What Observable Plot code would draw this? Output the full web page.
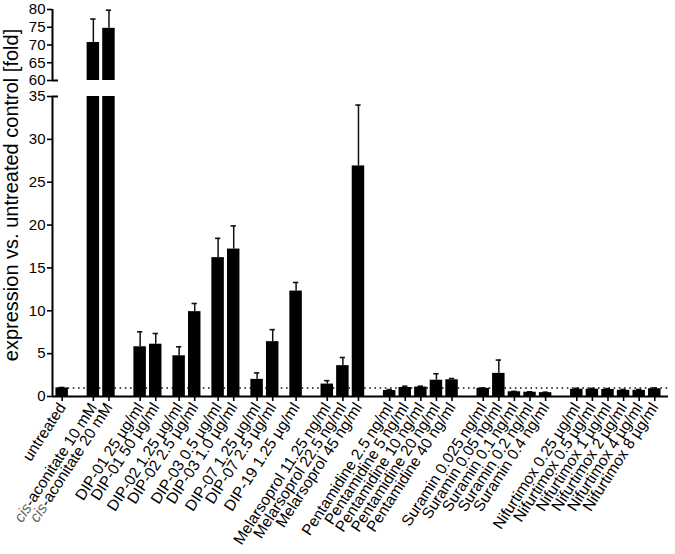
<!DOCTYPE html>
<html><head><meta charset="utf-8">
<script src="https://cdn.jsdelivr.net/npm/d3@7"></script>
<script src="https://cdn.jsdelivr.net/npm/@observablehq/plot@0.6"></script>
<style>
body{margin:0;background:#fff;}
#chart{position:relative;width:675px;height:554px;font-family:"Liberation Sans",Arial,Helvetica,sans-serif;}
#chart svg{position:absolute;left:0;overflow:visible;}
</style></head><body><div id="chart"></div>
<script>
const labels = ["untreated","cis-aconitate 10 mM","cis-aconitate 20 mM",
  "DIP-01 25 µg/ml","DIP-01 50 µg/ml","DIP-02 1.25 µg/ml","DIP-02 2.5 µg/ml",
  "DIP-03 0.5 µg/ml","DIP-03 1.0 µg/ml","DIP-07 1.25 µg/ml","DIP-07 2.5 µg/ml","DIP-19 1.25 µg/ml",
  "Melarsoprol 11.25 ng/ml","Melarsoprol 22.5 ng/ml","Melarsoprol 45 ng/ml",
  "Pentamidine 2.5 ng/ml","Pentamidine 5 ng/ml","Pentamidine 10 ng/ml","Pentamidine 20 ng/ml","Pentamidine 40 ng/ml",
  "Suramin 0.025 ng/ml","Suramin 0.05 ng/ml","Suramin 0.1 ng/ml","Suramin 0.2 ng/ml","Suramin 0.4 ng/ml",
  "Nifurtimox 0.25 µg/ml","Nifurtimox 0.5 µg/ml","Nifurtimox 1 µg/ml","Nifurtimox 2 µg/ml","Nifurtimox 4 µg/ml","Nifurtimox 8 µg/ml"];
const values = [1.0,70.7,74.7, 5.8,6.1,4.75,9.9, 16.2,17.2,2.0,6.4,12.3, 1.45,3.6,26.9,
  0.7,1.05,1.1,1.9,1.95, 0.95,2.7,0.55,0.5,0.45, 0.85,0.85,0.82,0.72,0.72,0.9];
const errors = [0.05,6.6,5.1, 1.75,1.25,1.05,0.95, 2.25,2.7,0.75,1.4,1.0, 0.4,0.95,7.1,
  0.1,0.15,0.1,0.75,0.15, 0.05,1.55,0.05,0.05,0.05, 0.1,0.1,0.1,0.1,0.1,0.1];
const yTicksBottom = [0,5,10,15,20,25,30,35];
const yTicksTop = [60,65,70,75,80];
const yLabel = "expression vs. untreated control [fold]";
const refLevel = 1;

// slot positions derived from the grouping in the labels
const pos = [];
let p = 0;
labels.forEach((l, i) => {
  if (i > 0) {
    const g = l.split(" ")[0], pg = labels[i-1].split(" ")[0];
    if (g !== pg) p += (g.split("-")[0] !== pg.split("-")[0]) ? 2 : 1.5;
    else p += 1;
  }
  pos.push(p);
});
const data = labels.map((l, i) => ({label: l, pos: pos[i], value: values[i], err: errors[i]}));
const labelByPos = new Map(data.map(d => [d.pos, d.label]));
const xDomain = [-0.62, pos[pos.length-1] + 0.88];
const halfBar = 0.4, halfCap = 0.17;
const font = '"Liberation Sans",Arial,Helvetica,sans-serif';

function barMarks() {
  return [
    Plot.ruleX(data, {x: "pos", y1: "value", y2: d => d.value + d.err, stroke: "#111", strokeWidth: 1.5, clip: true}),
    Plot.ruleY(data, {y: d => d.value + d.err, x1: d => d.pos - halfCap, x2: d => d.pos + halfCap, stroke: "#111", strokeWidth: 1.6, clip: true}),
    Plot.rect(data, {x1: d => d.pos - halfBar, x2: d => d.pos + halfBar, y1: () => 0, y2: "value", fill: "black", clip: true})
  ];
}

const chart = document.getElementById("chart");

const topPlot = Plot.plot({
  width: 675, height: 84, marginTop: 9, marginBottom: 4, marginLeft: 52, marginRight: 7,
  style: {fontFamily: font, fontSize: "15px", background: "transparent"},
  x: {type: "linear", domain: xDomain, axis: null},
  y: {domain: [60, 80], axis: null},
  marks: [
    ...barMarks(),
    Plot.ruleX([xDomain[0]], {y1: 60, y2: 80, strokeWidth: 2}),
    Plot.ruleY([60], {x1: xDomain[0], x2: xDomain[0] + 0.38, strokeWidth: 2}),
    Plot.axisY({ticks: yTicksTop, tickSize: 5, tickPadding: 2, strokeWidth: 1.6, label: null, fontSize: 15, fill: "black"})
  ]
});
topPlot.style.top = "0px";
chart.appendChild(topPlot);

const bottomPlot = Plot.plot({
  width: 675, height: 470, marginTop: 12, marginBottom: 158, marginLeft: 52, marginRight: 7,
  style: {fontFamily: font, fontSize: "15px", background: "transparent"},
  x: {type: "linear", domain: xDomain, axis: null},
  y: {domain: [0, 35], axis: null},
  marks: [
    Plot.ruleY([refLevel], {stroke: "#111", strokeWidth: 1.6, strokeDasharray: "1.6,3.6"}),
    ...barMarks(),
    Plot.ruleX([xDomain[0]], {y1: 0, y2: 35, strokeWidth: 2}),
    Plot.ruleY([35], {x1: xDomain[0], x2: xDomain[0] + 0.38, strokeWidth: 2}),
    Plot.ruleY([0], {strokeWidth: 2}),
    Plot.axisY({ticks: yTicksBottom, tickSize: 5, tickPadding: 2, strokeWidth: 1.6, label: null, fontSize: 15, fill: "black"}),
    Plot.axisX({ticks: pos, tickFormat: v => labelByPos.get(v), tickSize: 5, tickPadding: 3, strokeWidth: 1.6,
      tickRotate: -57, label: null, fontSize: 15.5, fill: "black"})
  ]
});
bottomPlot.style.top = "84px";
chart.appendChild(bottomPlot);

// italic "cis" prefix
d3.select(bottomPlot).selectAll("text").each(function() {
  const t = this.textContent;
  if (t.startsWith("cis-")) {
    const sel = d3.select(this);
    sel.text("");
    sel.append("tspan").attr("font-style", "italic").attr("fill", "#666").text("cis");
    sel.append("tspan").text(t.slice(3));
  }
});

// y-axis title spanning both panels
const ly = d3.create("svg").attr("width", 30).attr("height", 554)
  .style("top", "0px").style("overflow", "visible");
ly.append("text")
  .attr("transform", "translate(17.5,195) rotate(-90)")
  .attr("text-anchor", "middle")
  .attr("font-family", font).attr("font-size", 20).attr("fill", "black")
  .text(yLabel);
chart.appendChild(ly.node());
</script></body></html>
